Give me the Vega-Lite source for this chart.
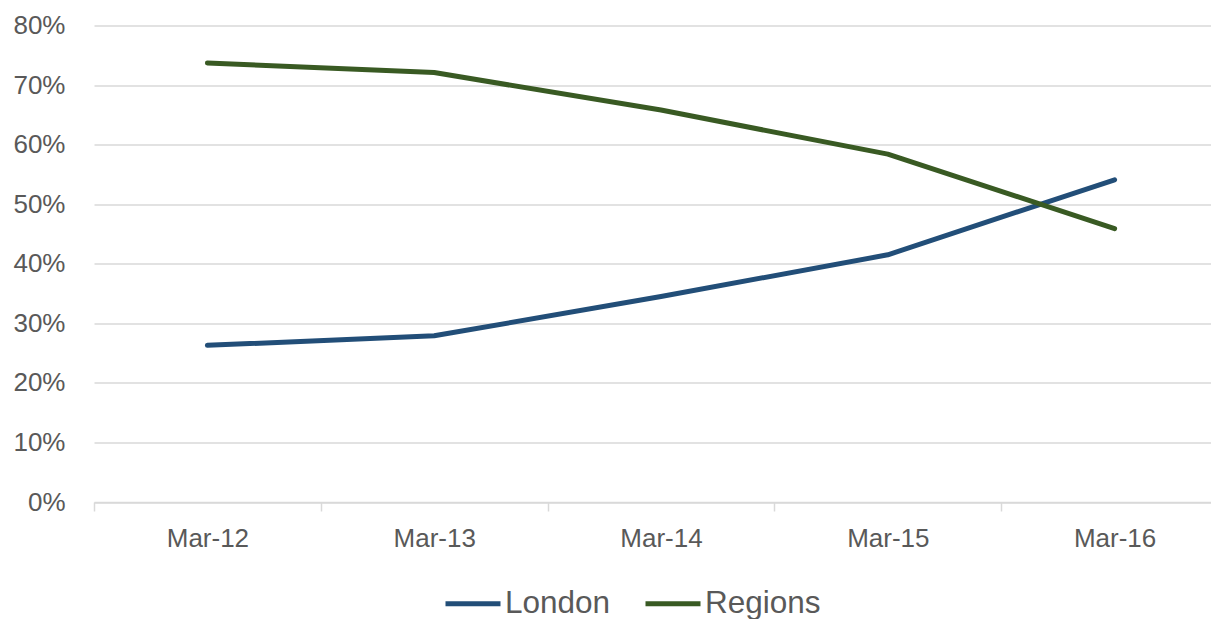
{
  "$schema": "https://vega.github.io/schema/vega-lite/v6.json",
  "width": 1117,
  "height": 476.5,
  "autosize": "none",
  "padding": {"left": 94, "top": 25.5, "right": 0, "bottom": 117},
  "background": "white",
  "config": {
    "view": {"stroke": null},
    "font": "Liberation Sans"
  },
  "data": {
    "values": [
      {"period": "Mar-12", "series": "London", "share": 0.263},
      {"period": "Mar-13", "series": "London", "share": 0.279},
      {"period": "Mar-14", "series": "London", "share": 0.345},
      {"period": "Mar-15", "series": "London", "share": 0.415},
      {"period": "Mar-16", "series": "London", "share": 0.541},
      {"period": "Mar-12", "series": "Regions", "share": 0.737},
      {"period": "Mar-13", "series": "Regions", "share": 0.721},
      {"period": "Mar-14", "series": "Regions", "share": 0.658},
      {"period": "Mar-15", "series": "Regions", "share": 0.584},
      {"period": "Mar-16", "series": "Regions", "share": 0.459}
    ]
  },
  "mark": {"type": "line", "strokeWidth": 5, "interpolate": "linear", "strokeCap": "round", "strokeJoin": "round"},
  "encoding": {
    "x": {
      "field": "period",
      "type": "ordinal",
      "sort": null,
      "title": null,
      "scale": {"type": "band", "paddingInner": 0, "paddingOuter": 0, "range": [0, 1134]},
      "axis": {
        "labelAngle": 0,
        "labelFontSize": 26,
        "labelColor": "#595959",
        "labelPadding": 14,
        "tickBand": "extent",
        "tickSize": 9,
        "tickColor": "#d9d9d9",
        "tickWidth": 1.5,
        "domainColor": "#d9d9d9",
        "domainWidth": 1.5,
        "grid": false
      }
    },
    "y": {
      "field": "share",
      "type": "quantitative",
      "title": null,
      "scale": {"domain": [0, 0.8], "nice": false},
      "axis": {
        "format": ".0%",
        "values": [0, 0.1, 0.2, 0.3, 0.4, 0.5, 0.6, 0.7, 0.8],
        "labelFontSize": 26,
        "labelColor": "#595959",
        "labelPadding": 29,
        "ticks": false,
        "domain": false,
        "grid": true,
        "gridColor": "#d9d9d9",
        "gridWidth": 1.5
      }
    },
    "color": {
      "field": "series",
      "type": "nominal",
      "title": null,
      "scale": {"domain": ["London", "Regions"], "range": ["#224e78", "#395a23"]},
      "legend": {
        "orient": "none",
        "direction": "horizontal",
        "legendX": 349,
        "legendY": 548,
        "symbolType": "stroke",
        "symbolSize": 3025,
        "symbolStrokeWidth": 5,
        "labelFontSize": 31.5,
        "labelColor": "#595959",
        "labelOffset": 2,
        "columnPadding": 24
      }
    }
  }
}
